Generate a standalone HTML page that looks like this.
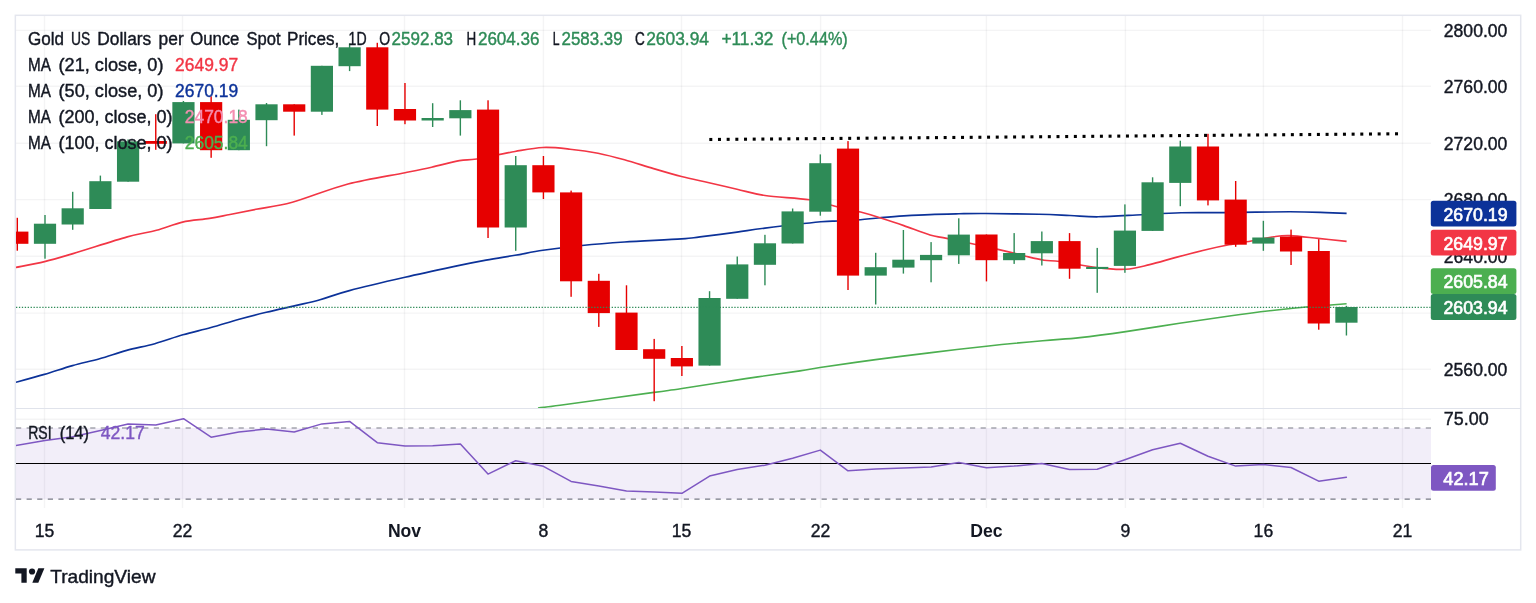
<!DOCTYPE html>
<html lang="en">
<head>
<meta charset="utf-8">
<title>Gold chart</title>
<style>html,body{margin:0;padding:0;background:#fff;}body{width:1536px;height:603px;overflow:hidden;}svg{display:block;}</style>
</head>
<body>
<svg width="1536" height="603" viewBox="0 0 1536 603" font-family="'Liberation Sans', sans-serif" font-size="17.6">
<rect width="1536" height="603" fill="#fff"/>
<defs><clipPath id="plot"><rect x="16" y="16" width="1415" height="392"/></clipPath><clipPath id="rsip"><rect x="16" y="408" width="1415" height="100"/></clipPath></defs>
<rect x="16" y="428" width="1415" height="71.3" fill="#f2eef9"/>
<g stroke="rgba(42,46,57,0.05)" stroke-width="1.4">
<line x1="16" x2="1431" y1="30.35" y2="30.35"/>
<line x1="16" x2="1431" y1="86.3" y2="86.3"/>
<line x1="16" x2="1431" y1="143.3" y2="143.3"/>
<line x1="16" x2="1431" y1="199.6" y2="199.6"/>
<line x1="16" x2="1431" y1="256.2" y2="256.2"/>
<line x1="16" x2="1431" y1="313.1" y2="313.1"/>
<line x1="16" x2="1431" y1="369.2" y2="369.2"/>
<line x1="16" x2="1431" y1="419.3" y2="419.3"/>
<line x1="44.5" x2="44.5" y1="16" y2="508"/>
<line x1="182.5" x2="182.5" y1="16" y2="508"/>
<line x1="404.5" x2="404.5" y1="16" y2="508"/>
<line x1="543.4" x2="543.4" y1="16" y2="508"/>
<line x1="681.5" x2="681.5" y1="16" y2="508"/>
<line x1="820.6" x2="820.6" y1="16" y2="508"/>
<line x1="986.4" x2="986.4" y1="16" y2="508"/>
<line x1="1125.4" x2="1125.4" y1="16" y2="508"/>
<line x1="1263.4" x2="1263.4" y1="16" y2="508"/>
<line x1="1402.5" x2="1402.5" y1="16" y2="508"/>
</g>
<rect x="15.35" y="15.3" width="1505.35" height="534.6" fill="none" stroke="#e4e6ee" stroke-width="1.5"/>
<line x1="16" x2="1521" y1="408.5" y2="408.5" stroke="#e0e3eb" stroke-width="1"/>
<g stroke="#787b86" stroke-width="1.2" stroke-dasharray="5.2 5.4">
<line x1="16" x2="1431" y1="428" y2="428"/>
<line x1="16" x2="1431" y1="499.2" y2="499.2"/>
</g>
<line x1="16" x2="1431" y1="463.5" y2="463.5" stroke="#000" stroke-width="1.2"/>
<g clip-path="url(#plot)">
<path d="M538.0 408.0C541.7 407.5 540.7 407.8 560.0 405.2C579.3 402.6 633.7 395.2 654.0 392.4C674.3 389.6 666.7 390.8 682.0 388.5C697.3 386.2 726.0 381.5 745.7 378.6C765.4 375.7 787.6 372.8 800.0 370.9C812.4 369.0 807.4 369.4 820.0 367.5C832.6 365.6 857.1 362.1 875.6 359.6C894.1 357.1 912.8 354.8 931.3 352.6C949.8 350.4 967.8 348.2 986.4 346.2C1005.0 344.2 1027.1 342.1 1042.7 340.7C1058.3 339.3 1066.2 339.1 1080.0 337.6C1093.8 336.1 1109.2 334.0 1125.8 331.6C1142.4 329.2 1161.9 326.0 1179.5 323.3C1197.1 320.6 1214.6 318.0 1231.2 315.7C1247.8 313.4 1266.1 311.2 1279.0 309.7C1291.9 308.2 1297.5 307.7 1308.8 306.7C1320.1 305.7 1340.3 304.3 1346.6 303.8" fill="none" stroke="#4caf50" stroke-width="1.65" stroke-linejoin="round" stroke-linecap="butt"/>
<path d="M15.5 382.4C20.3 381.1 34.9 377.2 44.4 374.4C53.9 371.6 63.3 368.2 72.5 365.6C81.7 363.0 90.6 361.2 99.6 358.7C108.6 356.2 117.5 352.9 126.7 350.4C135.9 347.9 145.4 346.3 154.8 343.7C164.2 341.1 173.5 337.5 182.9 334.8C192.3 332.1 201.6 330.1 211.0 327.5C220.4 324.9 230.0 321.7 239.2 319.2C248.4 316.7 256.9 314.6 266.3 312.3C275.7 310.0 286.4 307.7 295.4 305.6C304.3 303.5 311.0 302.2 320.0 299.7C329.0 297.2 335.2 294.3 349.4 290.6C363.6 286.9 386.7 281.5 405.0 277.3C423.3 273.1 445.9 268.3 459.4 265.4C472.9 262.5 476.7 261.8 486.0 260.1C495.3 258.4 505.5 256.9 515.0 255.3C524.5 253.7 531.8 251.9 543.0 250.3C554.2 248.7 568.4 246.9 582.0 245.5C595.6 244.1 607.9 243.1 624.5 242.0C641.1 240.9 668.9 239.8 681.5 238.9C694.1 238.1 690.8 238.0 700.0 236.9C709.2 235.8 726.2 233.6 737.0 232.1C747.8 230.6 751.0 229.8 765.0 228.1C779.0 226.4 808.5 223.0 820.7 221.8C832.9 220.6 831.4 221.3 838.0 221.0C844.6 220.7 853.5 220.2 860.5 219.7C867.5 219.1 872.8 218.3 880.0 217.7C887.2 217.1 895.5 216.4 903.8 215.9C912.1 215.4 920.8 214.9 930.0 214.6C939.2 214.2 949.7 214.0 959.0 213.8C968.3 213.6 972.7 213.4 986.0 213.5C999.3 213.6 1025.0 214.0 1039.0 214.3C1053.0 214.6 1060.2 215.1 1070.0 215.5C1079.8 215.9 1086.1 216.9 1098.0 216.8C1109.9 216.7 1127.8 215.4 1141.6 214.7C1155.4 214.0 1167.3 213.2 1181.0 212.8C1194.7 212.5 1205.8 212.8 1224.0 212.6C1242.2 212.4 1273.0 211.8 1290.0 211.8C1307.0 211.8 1316.6 212.3 1326.0 212.6C1335.4 212.9 1343.2 213.3 1346.6 213.4" fill="none" stroke="#0c3299" stroke-width="1.65" stroke-linejoin="round" stroke-linecap="butt"/>
<path d="M15.5 267.5C20.4 266.5 35.0 263.9 44.6 261.6C54.2 259.3 59.2 257.7 73.0 253.6C86.8 249.5 113.4 240.8 127.3 236.9C141.2 233.0 147.3 232.8 156.5 230.3C165.7 227.8 173.7 224.1 182.5 222.1C191.3 220.1 201.6 219.7 209.5 218.4C217.4 217.1 222.2 216.0 230.0 214.5C237.8 213.0 245.6 211.3 256.0 209.3C266.4 207.3 277.0 206.5 292.3 202.3C307.6 198.1 329.2 188.9 348.0 184.0C366.8 179.1 391.1 175.5 405.0 172.7C418.9 169.9 422.5 169.2 431.6 167.2C440.7 165.2 451.9 162.0 459.4 160.6C466.9 159.2 467.5 160.5 476.8 159.0C486.1 157.5 504.0 153.4 515.0 151.5C526.0 149.6 533.8 147.9 543.0 147.5C552.2 147.1 560.8 148.2 570.0 149.2C579.2 150.1 588.9 151.4 598.0 153.2C607.1 155.0 615.2 157.2 624.5 159.8C633.8 162.4 644.1 165.8 653.6 168.6C663.1 171.4 672.3 174.2 681.5 176.5C690.7 178.8 699.8 180.6 709.0 182.7C718.2 184.8 727.7 187.1 737.0 189.2C746.3 191.3 752.9 193.7 765.0 195.5C777.1 197.3 797.3 197.9 809.5 199.8C821.7 201.7 829.5 205.0 838.0 207.0C846.5 209.0 853.5 210.2 860.5 212.0C867.5 213.8 872.8 215.4 880.0 217.7C887.2 220.0 895.5 222.7 903.8 225.6C912.1 228.5 922.6 232.8 930.0 235.0C937.4 237.2 936.5 236.2 948.0 238.6C959.5 241.0 986.0 246.7 999.0 249.6C1012.0 252.5 1018.2 254.4 1025.7 256.2C1033.2 258.0 1038.3 259.3 1044.0 260.2C1049.7 261.1 1051.2 260.3 1060.0 261.5C1068.8 262.7 1085.5 266.3 1096.5 267.6C1107.5 268.9 1116.9 269.8 1125.7 269.3C1134.5 268.8 1141.2 266.6 1149.6 264.6C1158.0 262.6 1166.3 260.0 1176.0 257.4C1185.7 254.8 1199.2 251.3 1208.0 249.2C1216.8 247.1 1221.5 246.1 1229.0 244.7C1236.5 243.3 1245.5 242.0 1253.0 240.7C1260.5 239.4 1267.8 237.5 1274.0 236.7C1280.2 235.8 1282.7 235.3 1290.0 235.6C1297.3 235.9 1308.6 237.4 1318.0 238.4C1327.4 239.4 1341.8 240.9 1346.6 241.4" fill="none" stroke="#f23645" stroke-width="1.65" stroke-linejoin="round" stroke-linecap="butt"/>
<rect x="16.61" y="217.8" width="1.4" height="32.9" fill="#e60000"/>
<rect x="6.21" y="231.6" width="22.2" height="12.2" fill="#e60000"/>
<rect x="44.30" y="215.0" width="1.4" height="43.7" fill="#2e8b57"/>
<rect x="33.90" y="223.7" width="22.2" height="20.1" fill="#2e8b57"/>
<rect x="71.99" y="191.8" width="1.4" height="38.0" fill="#2e8b57"/>
<rect x="61.59" y="208.3" width="22.2" height="16.2" fill="#2e8b57"/>
<rect x="99.68" y="175.6" width="1.4" height="33.4" fill="#2e8b57"/>
<rect x="89.28" y="181.2" width="22.2" height="27.8" fill="#2e8b57"/>
<rect x="127.37" y="139.4" width="1.4" height="42.3" fill="#2e8b57"/>
<rect x="116.97" y="141.4" width="22.2" height="40.3" fill="#2e8b57"/>
<rect x="155.06" y="114.2" width="1.4" height="35.6" fill="#e60000"/>
<rect x="144.66" y="141.0" width="22.2" height="2.8" fill="#e60000"/>
<rect x="182.75" y="101.0" width="1.4" height="42.4" fill="#2e8b57"/>
<rect x="172.35" y="102.1" width="22.2" height="41.3" fill="#2e8b57"/>
<rect x="210.44" y="96.3" width="1.4" height="61.5" fill="#e60000"/>
<rect x="200.04" y="102.1" width="22.2" height="48.1" fill="#e60000"/>
<rect x="238.13" y="109.6" width="1.4" height="40.6" fill="#2e8b57"/>
<rect x="227.73" y="119.8" width="22.2" height="30.4" fill="#2e8b57"/>
<rect x="265.82" y="103.0" width="1.4" height="43.2" fill="#2e8b57"/>
<rect x="255.42" y="104.3" width="22.2" height="15.9" fill="#2e8b57"/>
<rect x="293.51" y="104.3" width="1.4" height="31.3" fill="#e60000"/>
<rect x="283.11" y="104.3" width="22.2" height="7.4" fill="#e60000"/>
<rect x="321.20" y="65.8" width="1.4" height="49.1" fill="#2e8b57"/>
<rect x="310.80" y="65.8" width="22.2" height="45.9" fill="#2e8b57"/>
<rect x="348.89" y="43.4" width="1.4" height="27.7" fill="#2e8b57"/>
<rect x="338.49" y="47.3" width="22.2" height="18.9" fill="#2e8b57"/>
<rect x="376.58" y="42.8" width="1.4" height="83.2" fill="#e60000"/>
<rect x="366.18" y="47.3" width="22.2" height="62.3" fill="#e60000"/>
<rect x="404.27" y="83.0" width="1.4" height="41.2" fill="#e60000"/>
<rect x="393.87" y="109.0" width="22.2" height="11.5" fill="#e60000"/>
<rect x="431.96" y="103.2" width="1.4" height="23.8" fill="#2e8b57"/>
<rect x="421.56" y="118.0" width="22.2" height="2.5" fill="#2e8b57"/>
<rect x="459.65" y="100.3" width="1.4" height="35.3" fill="#2e8b57"/>
<rect x="449.25" y="110.1" width="22.2" height="8.2" fill="#2e8b57"/>
<rect x="487.34" y="100.3" width="1.4" height="137.7" fill="#e60000"/>
<rect x="476.94" y="109.6" width="22.2" height="117.9" fill="#e60000"/>
<rect x="515.03" y="156.0" width="1.4" height="94.8" fill="#2e8b57"/>
<rect x="504.63" y="165.2" width="22.2" height="62.3" fill="#2e8b57"/>
<rect x="542.72" y="156.0" width="1.4" height="43.0" fill="#e60000"/>
<rect x="532.32" y="165.2" width="22.2" height="27.2" fill="#e60000"/>
<rect x="570.41" y="190.6" width="1.4" height="106.2" fill="#e60000"/>
<rect x="560.01" y="192.4" width="22.2" height="88.9" fill="#e60000"/>
<rect x="598.10" y="273.8" width="1.4" height="53.1" fill="#e60000"/>
<rect x="587.70" y="280.8" width="22.2" height="32.3" fill="#e60000"/>
<rect x="625.79" y="285.3" width="1.4" height="64.7" fill="#e60000"/>
<rect x="615.39" y="312.6" width="22.2" height="37.4" fill="#e60000"/>
<rect x="653.48" y="338.9" width="1.4" height="62.3" fill="#e60000"/>
<rect x="643.08" y="349.2" width="22.2" height="9.6" fill="#e60000"/>
<rect x="681.17" y="346.0" width="1.4" height="30.0" fill="#e60000"/>
<rect x="670.77" y="358.0" width="22.2" height="8.4" fill="#e60000"/>
<rect x="708.86" y="291.2" width="1.4" height="74.4" fill="#2e8b57"/>
<rect x="698.46" y="298.0" width="22.2" height="67.6" fill="#2e8b57"/>
<rect x="736.55" y="256.5" width="1.4" height="42.3" fill="#2e8b57"/>
<rect x="726.15" y="264.4" width="22.2" height="34.4" fill="#2e8b57"/>
<rect x="764.24" y="234.8" width="1.4" height="50.5" fill="#2e8b57"/>
<rect x="753.84" y="243.3" width="22.2" height="21.5" fill="#2e8b57"/>
<rect x="791.93" y="208.5" width="1.4" height="35.0" fill="#2e8b57"/>
<rect x="781.53" y="211.4" width="22.2" height="32.1" fill="#2e8b57"/>
<rect x="819.62" y="154.4" width="1.4" height="61.3" fill="#2e8b57"/>
<rect x="809.22" y="163.2" width="22.2" height="48.5" fill="#2e8b57"/>
<rect x="847.31" y="141.1" width="1.4" height="148.9" fill="#e60000"/>
<rect x="836.91" y="148.6" width="22.2" height="127.0" fill="#e60000"/>
<rect x="875.00" y="252.8" width="1.4" height="51.7" fill="#2e8b57"/>
<rect x="864.60" y="267.2" width="22.2" height="8.4" fill="#2e8b57"/>
<rect x="902.69" y="230.0" width="1.4" height="43.6" fill="#2e8b57"/>
<rect x="892.29" y="259.7" width="22.2" height="7.9" fill="#2e8b57"/>
<rect x="930.38" y="242.1" width="1.4" height="40.2" fill="#2e8b57"/>
<rect x="919.98" y="254.9" width="22.2" height="5.3" fill="#2e8b57"/>
<rect x="958.07" y="218.3" width="1.4" height="45.6" fill="#2e8b57"/>
<rect x="947.67" y="234.6" width="22.2" height="20.7" fill="#2e8b57"/>
<rect x="985.76" y="234.5" width="1.4" height="46.9" fill="#e60000"/>
<rect x="975.36" y="234.5" width="22.2" height="25.7" fill="#e60000"/>
<rect x="1013.45" y="233.1" width="1.4" height="30.8" fill="#2e8b57"/>
<rect x="1003.05" y="253.0" width="22.2" height="7.2" fill="#2e8b57"/>
<rect x="1041.14" y="231.5" width="1.4" height="34.0" fill="#2e8b57"/>
<rect x="1030.74" y="241.1" width="22.2" height="12.2" fill="#2e8b57"/>
<rect x="1068.83" y="233.1" width="1.4" height="45.7" fill="#e60000"/>
<rect x="1058.43" y="241.1" width="22.2" height="27.6" fill="#e60000"/>
<rect x="1096.52" y="247.9" width="1.4" height="44.9" fill="#2e8b57"/>
<rect x="1086.12" y="266.9" width="22.2" height="2.1" fill="#2e8b57"/>
<rect x="1124.21" y="204.4" width="1.4" height="68.4" fill="#2e8b57"/>
<rect x="1113.81" y="230.6" width="22.2" height="35.3" fill="#2e8b57"/>
<rect x="1151.90" y="177.3" width="1.4" height="53.6" fill="#2e8b57"/>
<rect x="1141.50" y="182.3" width="22.2" height="48.6" fill="#2e8b57"/>
<rect x="1179.59" y="140.7" width="1.4" height="65.5" fill="#2e8b57"/>
<rect x="1169.19" y="146.5" width="22.2" height="36.4" fill="#2e8b57"/>
<rect x="1207.28" y="133.8" width="1.4" height="71.6" fill="#e60000"/>
<rect x="1196.88" y="146.5" width="22.2" height="53.9" fill="#e60000"/>
<rect x="1234.97" y="181.0" width="1.4" height="65.8" fill="#e60000"/>
<rect x="1224.57" y="199.6" width="22.2" height="45.1" fill="#e60000"/>
<rect x="1262.66" y="220.8" width="1.4" height="30.0" fill="#2e8b57"/>
<rect x="1252.26" y="237.5" width="22.2" height="6.1" fill="#2e8b57"/>
<rect x="1290.35" y="229.6" width="1.4" height="35.4" fill="#e60000"/>
<rect x="1279.95" y="236.5" width="22.2" height="15.0" fill="#e60000"/>
<rect x="1318.04" y="239.2" width="1.4" height="90.5" fill="#e60000"/>
<rect x="1307.64" y="251.0" width="22.2" height="72.5" fill="#e60000"/>
<rect x="1345.73" y="305.8" width="1.4" height="29.7" fill="#2e8b57"/>
<rect x="1335.33" y="307.0" width="22.2" height="15.7" fill="#2e8b57"/>
<line x1="16" x2="1431" y1="307.3" y2="307.3" stroke="#2e8b57" stroke-width="1.2" stroke-dasharray="1.3 1.62"/>
<g fill="#000"><rect x="709.30" y="137.94" width="3" height="3.1"/><rect x="717.98" y="137.87" width="3" height="3.1"/><rect x="726.66" y="137.79" width="3" height="3.1"/><rect x="735.34" y="137.72" width="3" height="3.1"/><rect x="744.02" y="137.65" width="3" height="3.1"/><rect x="752.70" y="137.58" width="3" height="3.1"/><rect x="761.38" y="137.51" width="3" height="3.1"/><rect x="770.06" y="137.43" width="3" height="3.1"/><rect x="778.74" y="137.36" width="3" height="3.1"/><rect x="787.42" y="137.29" width="3" height="3.1"/><rect x="796.10" y="137.22" width="3" height="3.1"/><rect x="804.78" y="137.15" width="3" height="3.1"/><rect x="813.46" y="137.07" width="3" height="3.1"/><rect x="822.14" y="137.00" width="3" height="3.1"/><rect x="830.82" y="136.93" width="3" height="3.1"/><rect x="839.50" y="136.86" width="3" height="3.1"/><rect x="848.18" y="136.79" width="3" height="3.1"/><rect x="856.86" y="136.71" width="3" height="3.1"/><rect x="865.54" y="136.64" width="3" height="3.1"/><rect x="874.22" y="136.57" width="3" height="3.1"/><rect x="882.90" y="136.50" width="3" height="3.1"/><rect x="891.58" y="136.43" width="3" height="3.1"/><rect x="900.26" y="136.35" width="3" height="3.1"/><rect x="908.94" y="136.28" width="3" height="3.1"/><rect x="917.62" y="136.21" width="3" height="3.1"/><rect x="926.30" y="136.14" width="3" height="3.1"/><rect x="934.98" y="136.07" width="3" height="3.1"/><rect x="943.66" y="135.99" width="3" height="3.1"/><rect x="952.34" y="135.92" width="3" height="3.1"/><rect x="961.02" y="135.85" width="3" height="3.1"/><rect x="969.70" y="135.78" width="3" height="3.1"/><rect x="978.38" y="135.71" width="3" height="3.1"/><rect x="987.06" y="135.63" width="3" height="3.1"/><rect x="995.74" y="135.56" width="3" height="3.1"/><rect x="1004.42" y="135.49" width="3" height="3.1"/><rect x="1013.10" y="135.42" width="3" height="3.1"/><rect x="1021.78" y="135.35" width="3" height="3.1"/><rect x="1030.46" y="135.27" width="3" height="3.1"/><rect x="1039.14" y="135.20" width="3" height="3.1"/><rect x="1047.82" y="135.13" width="3" height="3.1"/><rect x="1056.50" y="135.06" width="3" height="3.1"/><rect x="1065.18" y="134.99" width="3" height="3.1"/><rect x="1073.86" y="134.91" width="3" height="3.1"/><rect x="1082.54" y="134.84" width="3" height="3.1"/><rect x="1091.22" y="134.77" width="3" height="3.1"/><rect x="1099.90" y="134.70" width="3" height="3.1"/><rect x="1108.58" y="134.63" width="3" height="3.1"/><rect x="1117.26" y="134.55" width="3" height="3.1"/><rect x="1125.94" y="134.48" width="3" height="3.1"/><rect x="1134.62" y="134.41" width="3" height="3.1"/><rect x="1143.30" y="134.34" width="3" height="3.1"/><rect x="1151.98" y="134.27" width="3" height="3.1"/><rect x="1160.66" y="134.19" width="3" height="3.1"/><rect x="1169.34" y="134.12" width="3" height="3.1"/><rect x="1178.02" y="134.05" width="3" height="3.1"/><rect x="1186.70" y="133.98" width="3" height="3.1"/><rect x="1195.38" y="133.91" width="3" height="3.1"/><rect x="1204.06" y="133.83" width="3" height="3.1"/><rect x="1212.74" y="133.76" width="3" height="3.1"/><rect x="1221.42" y="133.69" width="3" height="3.1"/><rect x="1230.10" y="133.62" width="3" height="3.1"/><rect x="1238.78" y="133.55" width="3" height="3.1"/><rect x="1247.46" y="133.47" width="3" height="3.1"/><rect x="1256.14" y="133.40" width="3" height="3.1"/><rect x="1264.82" y="133.33" width="3" height="3.1"/><rect x="1273.50" y="133.26" width="3" height="3.1"/><rect x="1282.18" y="133.19" width="3" height="3.1"/><rect x="1290.86" y="133.11" width="3" height="3.1"/><rect x="1299.54" y="133.04" width="3" height="3.1"/><rect x="1308.22" y="132.97" width="3" height="3.1"/><rect x="1316.90" y="132.90" width="3" height="3.1"/><rect x="1325.58" y="132.83" width="3" height="3.1"/><rect x="1334.26" y="132.75" width="3" height="3.1"/><rect x="1342.94" y="132.68" width="3" height="3.1"/><rect x="1351.62" y="132.61" width="3" height="3.1"/><rect x="1360.30" y="132.54" width="3" height="3.1"/><rect x="1368.98" y="132.47" width="3" height="3.1"/><rect x="1377.66" y="132.39" width="3" height="3.1"/><rect x="1386.34" y="132.32" width="3" height="3.1"/><rect x="1395.02" y="132.25" width="3" height="3.1"/></g>
</g>
<g clip-path="url(#rsip)">
<polyline points="15.5,445.5 45.0,440.5 72.7,436.8 100.4,430.4 128.1,423.9 155.8,425.1 183.5,418.7 211.1,437.2 238.8,432.0 266.5,429.0 294.2,432.0 321.9,423.9 349.6,421.4 377.3,442.7 405.0,446.0 432.7,445.8 460.4,443.9 488.0,474.1 515.7,460.7 543.4,466.3 571.1,481.4 598.8,486.0 626.5,490.9 654.2,492.1 681.9,493.3 709.6,476.1 737.2,469.6 764.9,465.2 792.6,458.3 820.3,450.1 848.0,470.8 875.7,469.1 903.4,467.9 931.1,466.9 958.8,462.4 986.5,467.7 1014.1,466.1 1041.8,463.4 1069.5,469.5 1097.2,469.3 1124.9,459.8 1152.6,449.7 1180.3,443.3 1208.0,456.2 1235.7,466.1 1263.4,464.6 1291.0,467.5 1318.7,481.2 1346.4,477.3" fill="none" stroke="#7e57c2" stroke-width="1.5" stroke-linejoin="round" stroke-linecap="round"/>
</g>
<text x="1443.8" y="36.7" fill="#131722" stroke="#131722" stroke-width="0.4" textLength="63.6" lengthAdjust="spacingAndGlyphs">2800.00</text>
<text x="1443.8" y="92.9" fill="#131722" stroke="#131722" stroke-width="0.4" textLength="63.6" lengthAdjust="spacingAndGlyphs">2760.00</text>
<text x="1443.8" y="149.7" fill="#131722" stroke="#131722" stroke-width="0.4" textLength="63.6" lengthAdjust="spacingAndGlyphs">2720.00</text>
<text x="1443.8" y="206.2" fill="#131722" stroke="#131722" stroke-width="0.4" textLength="63.6" lengthAdjust="spacingAndGlyphs">2680.00</text>
<text x="1443.8" y="262.6" fill="#131722" stroke="#131722" stroke-width="0.4" textLength="63.6" lengthAdjust="spacingAndGlyphs">2640.00</text>
<text x="1443.8" y="319.2" fill="#131722" stroke="#131722" stroke-width="0.4" textLength="63.6" lengthAdjust="spacingAndGlyphs">2600.00</text>
<text x="1443.8" y="375.5" fill="#131722" stroke="#131722" stroke-width="0.4" textLength="63.6" lengthAdjust="spacingAndGlyphs">2560.00</text>
<text x="1443.8" y="425.3" fill="#131722" stroke="#131722" stroke-width="0.4" textLength="44.8" lengthAdjust="spacingAndGlyphs">75.00</text>
<text x="44.5" y="536.5" fill="#131722" stroke="#131722" stroke-width="0.4" text-anchor="middle">15</text>
<text x="182.5" y="536.5" fill="#131722" stroke="#131722" stroke-width="0.4" text-anchor="middle">22</text>
<text x="404.5" y="536.5" fill="#131722" stroke="#131722" stroke-width="0" text-anchor="middle" font-weight="bold">Nov</text>
<text x="543.4" y="536.5" fill="#131722" stroke="#131722" stroke-width="0.4" text-anchor="middle">8</text>
<text x="681.5" y="536.5" fill="#131722" stroke="#131722" stroke-width="0.4" text-anchor="middle">15</text>
<text x="820.6" y="536.5" fill="#131722" stroke="#131722" stroke-width="0.4" text-anchor="middle">22</text>
<text x="986.4" y="536.5" fill="#131722" stroke="#131722" stroke-width="0" text-anchor="middle" font-weight="bold">Dec</text>
<text x="1125.4" y="536.5" fill="#131722" stroke="#131722" stroke-width="0.4" text-anchor="middle">9</text>
<text x="1263.4" y="536.5" fill="#131722" stroke="#131722" stroke-width="0.4" text-anchor="middle">16</text>
<text x="1402.5" y="536.5" fill="#131722" stroke="#131722" stroke-width="0.4" text-anchor="middle">21</text>
<rect x="1430.8" y="200.7" width="85.6" height="25.8" rx="2.5" fill="#0c3299"/>
<text x="1443.5" y="220.8" fill="#fff" stroke="#fff" stroke-width="0.65" textLength="64.0" lengthAdjust="spacingAndGlyphs">2670.19</text>
<rect x="1430.8" y="229.8" width="85.6" height="25.8" rx="2.5" fill="#f23645"/>
<text x="1443.5" y="249.9" fill="#fff" stroke="#fff" stroke-width="0.65" textLength="64.0" lengthAdjust="spacingAndGlyphs">2649.97</text>
<rect x="1430.8" y="268.3" width="85.6" height="25.8" rx="2.5" fill="#4caf50"/>
<text x="1443.5" y="288.4" fill="#fff" stroke="#fff" stroke-width="0.65" textLength="64.0" lengthAdjust="spacingAndGlyphs">2605.84</text>
<rect x="1430.8" y="294.1" width="85.6" height="25.8" rx="2.5" fill="#2e8b57"/>
<text x="1443.5" y="314.2" fill="#fff" stroke="#fff" stroke-width="0.65" textLength="64.0" lengthAdjust="spacingAndGlyphs">2603.94</text>
<rect x="1431" y="465" width="64.8" height="25.7" rx="2.5" fill="#7e57c2"/>
<text x="1443.3" y="485.2" fill="#fff" stroke="#fff" stroke-width="0.65" textLength="45.5" lengthAdjust="spacingAndGlyphs">42.17</text>
<text x="28.1" y="45.1" fill="#131722" stroke="#131722" stroke-width="0.4" textLength="36.0" lengthAdjust="spacingAndGlyphs">Gold</text>
<text x="71.1" y="45.1" fill="#131722" stroke="#131722" stroke-width="0.4" textLength="19.3" lengthAdjust="spacingAndGlyphs">US</text>
<text x="97.3" y="45.1" fill="#131722" stroke="#131722" stroke-width="0.4" textLength="53.9" lengthAdjust="spacingAndGlyphs">Dollars</text>
<text x="158.6" y="45.1" fill="#131722" stroke="#131722" stroke-width="0.4" textLength="25.1" lengthAdjust="spacingAndGlyphs">per</text>
<text x="190.2" y="45.1" fill="#131722" stroke="#131722" stroke-width="0.4" textLength="49.2" lengthAdjust="spacingAndGlyphs">Ounce</text>
<text x="246.4" y="45.1" fill="#131722" stroke="#131722" stroke-width="0.4" textLength="34.1" lengthAdjust="spacingAndGlyphs">Spot</text>
<text x="287.0" y="45.1" fill="#131722" stroke="#131722" stroke-width="0.4" textLength="52.2" lengthAdjust="spacingAndGlyphs">Prices,</text>
<text x="348.6" y="45.1" fill="#131722" stroke="#131722" stroke-width="0.4" textLength="18.0" lengthAdjust="spacingAndGlyphs">1D</text>
<text x="379.3" y="45.1" fill="#131722" stroke="#131722" stroke-width="0.4" textLength="10.9" lengthAdjust="spacingAndGlyphs">O</text>
<text x="391.6" y="45.1" fill="#2e8b57" stroke="#2e8b57" stroke-width="0.4" textLength="61.5" lengthAdjust="spacingAndGlyphs">2592.83</text>
<text x="466.4" y="45.1" fill="#131722" stroke="#131722" stroke-width="0.4" textLength="9.7" lengthAdjust="spacingAndGlyphs">H</text>
<text x="477.9" y="45.1" fill="#2e8b57" stroke="#2e8b57" stroke-width="0.4" textLength="61.7" lengthAdjust="spacingAndGlyphs">2604.36</text>
<text x="552.7" y="45.1" fill="#131722" stroke="#131722" stroke-width="0.4" textLength="6.8" lengthAdjust="spacingAndGlyphs">L</text>
<text x="561.5" y="45.1" fill="#2e8b57" stroke="#2e8b57" stroke-width="0.4" textLength="61.2" lengthAdjust="spacingAndGlyphs">2583.39</text>
<text x="635.0" y="45.1" fill="#131722" stroke="#131722" stroke-width="0.4" textLength="9.8" lengthAdjust="spacingAndGlyphs">C</text>
<text x="646.2" y="45.1" fill="#2e8b57" stroke="#2e8b57" stroke-width="0.4" textLength="62.8" lengthAdjust="spacingAndGlyphs">2603.94</text>
<text x="721.4" y="45.1" fill="#2e8b57" stroke="#2e8b57" stroke-width="0.4" textLength="52.1" lengthAdjust="spacingAndGlyphs">+11.32</text>
<text x="781.5" y="45.1" fill="#2e8b57" stroke="#2e8b57" stroke-width="0.4" textLength="66.2" lengthAdjust="spacingAndGlyphs">(+0.44%)</text>
<text x="28.1" y="71.1" fill="#131722" stroke="#131722" stroke-width="0.4" textLength="22.9" lengthAdjust="spacingAndGlyphs">MA</text>
<text x="58.5" y="71.1" fill="#131722" stroke="#131722" stroke-width="0.4" textLength="105.0" lengthAdjust="spacingAndGlyphs">(21, close, 0)</text>
<text x="175.1" y="71.1" fill="#f23645" stroke="#f23645" stroke-width="0.4" textLength="63.0" lengthAdjust="spacingAndGlyphs">2649.97</text>
<text x="28.1" y="97.3" fill="#131722" stroke="#131722" stroke-width="0.4" textLength="22.9" lengthAdjust="spacingAndGlyphs">MA</text>
<text x="58.5" y="97.3" fill="#131722" stroke="#131722" stroke-width="0.4" textLength="105.0" lengthAdjust="spacingAndGlyphs">(50, close, 0)</text>
<text x="175.1" y="97.3" fill="#0c3299" stroke="#0c3299" stroke-width="0.4" textLength="63.0" lengthAdjust="spacingAndGlyphs">2670.19</text>
<text x="28.1" y="123.3" fill="#131722" stroke="#131722" stroke-width="0.4" textLength="22.9" lengthAdjust="spacingAndGlyphs">MA</text>
<text x="58.5" y="123.3" fill="#131722" stroke="#131722" stroke-width="0.4" textLength="114.0" lengthAdjust="spacingAndGlyphs">(200, close, 0)</text>
<text x="184.8" y="123.3" fill="#f48fb1" stroke="#f48fb1" stroke-width="0.4" textLength="63.0" lengthAdjust="spacingAndGlyphs">2470.18</text>
<text x="28.1" y="149.3" fill="#131722" stroke="#131722" stroke-width="0.4" textLength="22.9" lengthAdjust="spacingAndGlyphs">MA</text>
<text x="58.5" y="149.3" fill="#131722" stroke="#131722" stroke-width="0.4" textLength="114.0" lengthAdjust="spacingAndGlyphs">(100, close, 0)</text>
<text x="184.8" y="149.3" fill="#4caf50" stroke="#4caf50" stroke-width="0.4" textLength="63.0" lengthAdjust="spacingAndGlyphs">2605.84</text>
<text x="28.2" y="438.6" fill="#131722" stroke="#131722" stroke-width="0.4" textLength="23.4" lengthAdjust="spacingAndGlyphs">RSI</text>
<text x="59.7" y="438.6" fill="#131722" stroke="#131722" stroke-width="0.4" textLength="29.2" lengthAdjust="spacingAndGlyphs">(14)</text>
<text x="100.8" y="438.6" fill="#7e57c2" stroke="#7e57c2" stroke-width="0.4" textLength="44.0" lengthAdjust="spacingAndGlyphs">42.17</text>
<g fill="#131722">
<path d="M15.3 568.3H26.7V582.7H21.4V573.6H15.3Z"/>
<circle cx="32.05" cy="571.5" r="3.1"/>
<path d="M38.3 568.3H44.4L38.3 582.7H32.3Z"/>
</g>
<text x="50.2" y="583.3" fill="#131722" stroke="#131722" stroke-width="0.4" textLength="105.3" lengthAdjust="spacingAndGlyphs" font-size="17.8">TradingView</text>
</svg>
</body>
</html>
